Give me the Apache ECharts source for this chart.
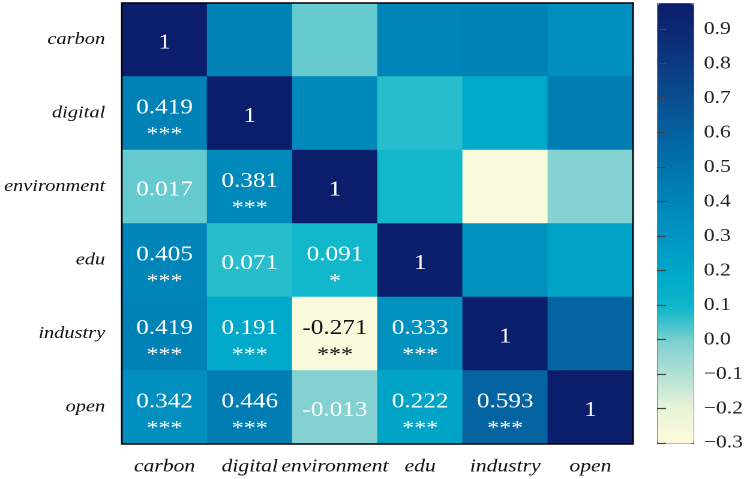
<!DOCTYPE html>
<html><head><meta charset="utf-8">
<script src="https://cdn.jsdelivr.net/npm/echarts@6/dist/echarts.min.js"></script>
<style>
html,body{margin:0;padding:0;background:#fff;overflow:hidden}
#wrap{width:754px;height:479px;overflow:hidden;position:relative}
#c{height:479px;transform-origin:0 0;position:absolute;left:0;top:0}
</style>
</head><body><div id="wrap"><div id="c"></div></div>
<script>
// ---- data ----
const categories = ['carbon', 'digital', 'environment', 'edu', 'industry', 'open'];
// lower triangle of the correlation matrix (row i lists columns 0..i-1)
const corrLower = [
  [],
  [0.419],
  [0.017, 0.381],
  [0.405, 0.071, 0.091],
  [0.419, 0.191, -0.271, 0.333],
  [0.342, 0.446, -0.013, 0.222, 0.593]
];
const starsLower = [
  [],
  ['***'],
  ['', '***'],
  ['***', '', '*'],
  ['***', '***', '***', '***'],
  ['***', '***', '', '***', '***']
];
const diagonalValue = 1;
const colorbarTicks = [-0.3, -0.2, -0.1, 0.0, 0.1, 0.2, 0.3, 0.4, 0.5, 0.6, 0.7, 0.8, 0.9];
const colorbarMin = -0.3;
const colorbarMax = 0.976;

// ---- style ----
const SX = 1.2; // horizontal stretch of the original picture
const W = 754 / SX;
const serif = "'Liberation Serif','Times New Roman',serif";
const palette = ['#fffadc', '#eaf5d8', '#b3e2d5', '#7fd1d1', '#0fb7ca', '#00a9c9', '#0098c2',
  '#0088bb', '#0077ae', '#0465a3', '#095293', '#0b3f84', '#0c2d76', '#0b1e6b'];

const el = document.getElementById('c');
el.style.width = W + 'px';
el.style.transform = 'scaleX(' + SX + ')';

function corr(x, y) {
  if (x === y) return diagonalValue;
  return x < y ? corrLower[y][x] : corrLower[x][y];
}
const data = [];
for (let y = 0; y < categories.length; y++) {
  for (let x = 0; x < categories.length; x++) {
    const v = corr(x, y);
    const show = x <= y;
    const stars = (x < y) ? starsLower[y][x] : '';
    data.push({
      value: [x, y, v],
      label: {
        show: show,
        color: v < -0.15 ? '#111' : '#ffffff',
        offset: stars ? [0, 8] : [0, 3]
      }
    });
  }
}

function fmtCell(v) {
  return v === 1 ? '1' : v.toFixed(3);
}
function fmtBar(v) {
  const r = Math.round(v * 10) / 10;
  return (r < 0 ? '\u2212' : '') + Math.abs(r).toFixed(1);
}

const gridL = 122 / SX, gridT = 3, gridW = 511 / SX, gridH = 441;
const axisLineV = { lineStyle: { color: '#000', width: 1.5 } };

const chart = echarts.init(el, null, { renderer: 'canvas', devicePixelRatio: 2 });
chart.setOption({
  animation: false,
  backgroundColor: '#fff',
  grid: [
    { left: gridL, top: gridT, width: gridW, height: gridH, containLabel: false, outerBoundsMode: 'none' },
    { left: 657 / SX, top: 3, width: 36 / SX, height: 440, containLabel: false, outerBoundsMode: 'none' }
  ],
  xAxis: [
    {
      type: 'category', data: categories, gridIndex: 0, position: 'bottom', z: 5,
      axisLine: axisLineV,
      axisTick: { alignWithLabel: true, length: 8, lineStyle: { color: '#000', width: 1.5 } },
      axisLabel: { interval: 0, hideOverlap: false, fontFamily: serif, fontStyle: 'italic', fontSize: 18, color: '#111', margin: 14 },
      splitLine: { show: false }
    },
    {
      type: 'category', data: categories, gridIndex: 0, position: 'top', z: 5,
      axisLine: axisLineV, axisTick: { show: false }, axisLabel: { show: false }
    },
    { type: 'value', gridIndex: 1, show: false, min: 0, max: 1 }
  ],
  yAxis: [
    {
      type: 'category', data: categories, inverse: true, gridIndex: 0, position: 'left', z: 5,
      axisLine: { lineStyle: { color: '#000', width: 1.4 } },
      axisTick: { alignWithLabel: true, length: 6.7, lineStyle: { color: '#000', width: 1.5 } },
      axisLabel: { interval: 0, fontFamily: serif, fontStyle: 'italic', fontSize: 17, color: '#111', margin: 14 },
      splitLine: { show: false }
    },
    {
      type: 'category', data: categories, inverse: true, gridIndex: 0, position: 'right', z: 5,
      axisLine: { lineStyle: { color: '#000', width: 1.4 } }, axisTick: { show: false }, axisLabel: { show: false }
    },
    {
      type: 'value', gridIndex: 1, position: 'right', min: colorbarMin, max: colorbarMax, z: 5,
      axisLine: { show: false }, splitLine: { show: false },
      axisTick: { show: true, customValues: colorbarTicks, length: 7.5, lineStyle: { color: '#444', width: 1.2 } },
      axisLabel: { customValues: colorbarTicks, fontFamily: serif, fontSize: 18, color: '#222', margin: 9, formatter: fmtBar }
    }
  ],
  visualMap: {
    type: 'continuous', min: colorbarMin, max: colorbarMax, calculable: false, hoverLink: false,
    seriesIndex: 0, orient: 'vertical', left: 657 / SX, top: 3, itemWidth: 36 / SX, itemHeight: 440,
    padding: 0, borderColor: '#777', borderWidth: 1,
    inRange: { color: palette }
  },
  series: [{
    type: 'heatmap', xAxisIndex: 0, yAxisIndex: 0, data: data,
    itemStyle: { borderWidth: 0 },
    emphasis: { disabled: true },
    label: {
      show: true, fontFamily: serif,
      formatter: function (p) {
        const x = p.value[0], y = p.value[1], v = p.value[2];
        const s = x < y ? starsLower[y][x] : '';
        return s ? '{v|' + fmtCell(v) + '}\n{s|' + s + '}' : '{v|' + fmtCell(v) + '}';
      },
      rich: {
        v: { fontFamily: serif, fontSize: 21, lineHeight: 27 },
        s: { fontFamily: serif, fontSize: 20, lineHeight: 27 }
      }
    }
  }]
});
</script></body></html>
